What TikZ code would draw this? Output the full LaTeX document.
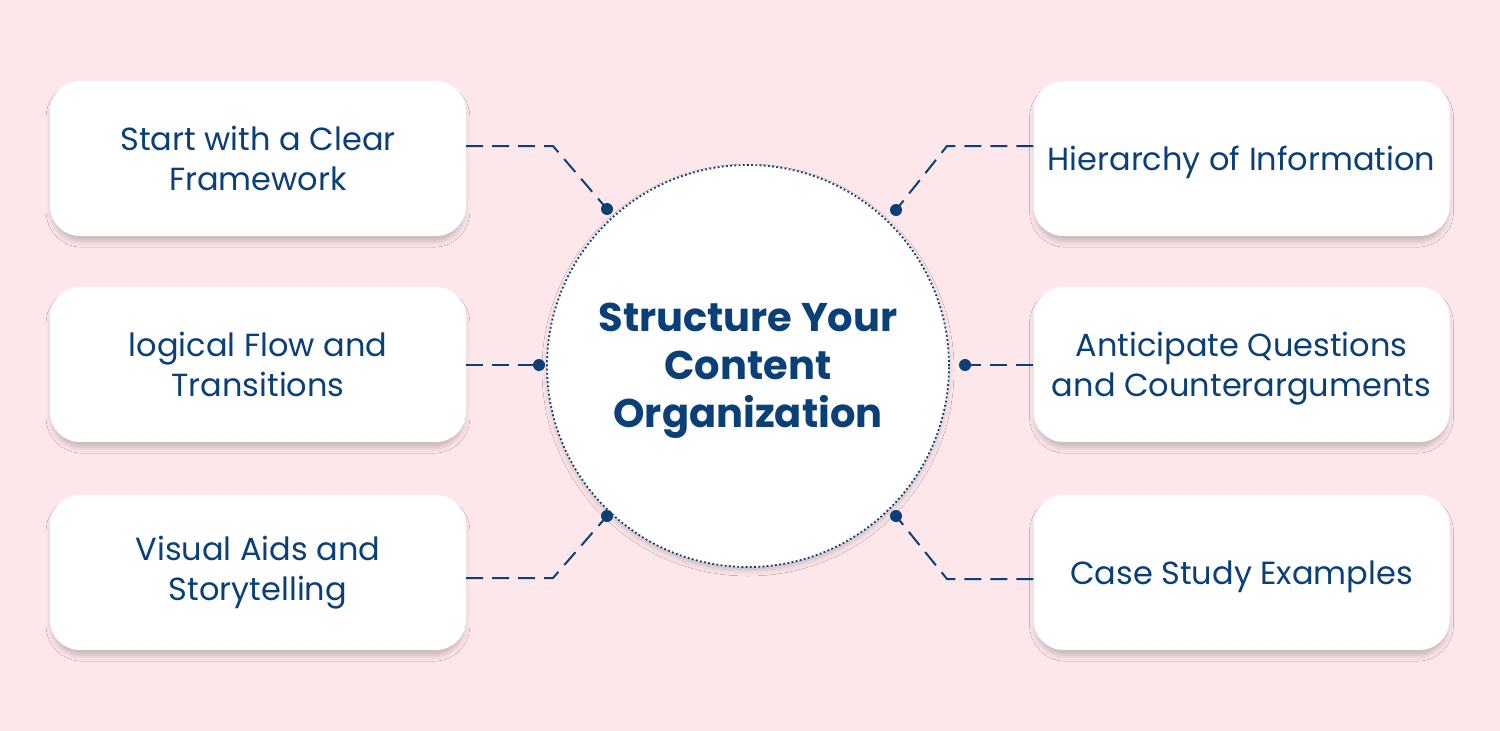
\documentclass[tikz,border=0pt]{standalone}
\usepackage{fontspec}
\setmainfont{Poppins}
\usetikzlibrary{shadows,shadows.blur}
\definecolor{bgpink}{HTML}{FDE7EA}
\definecolor{navy}{HTML}{0B3F78}
\tikzset{
  box/.style={draw=none, fill=white, rounded corners=30pt, minimum width=416pt, minimum height=155pt,
    inner sep=0pt,
    blur shadow={shadow xshift=0pt, shadow yshift=-6pt, shadow scale=0.99, shadow blur radius=6pt, shadow opacity=22}},
  boxtext/.style={align=center, text=navy, font=\fontsize{32}{40}\selectfont, inner sep=0pt},
  hub/.style={circle, fill=white, draw=navy, line width=1.8pt, dash pattern=on 1.8pt off 2.4pt,
    minimum size=402pt, inner sep=0pt,
    blur shadow={shadow xshift=0pt, shadow yshift=-4pt, shadow blur radius=5pt, shadow opacity=18}},
  hubtext/.style={align=center, text=navy, inner sep=0pt, font=\fontsize{40}{48}\selectfont\bfseries},
  link/.style={draw=navy, line width=2pt, dash pattern=on 17pt off 9pt},
  dotmark/.style={circle, fill=navy, minimum size=12pt, inner sep=0pt}
}
\begin{document}
\begin{tikzpicture}[x=1pt,y=1pt]
\useasboundingbox (0,0) rectangle (1500,-731);
\fill[bgpink] (0,0) rectangle (1500,-731);

\node[box] (b1) at (258,-158.5) {};
\node[box] (b2) at (258,-364.5) {};
\node[box] (b3) at (258,-572.5) {};
\node[box] (b4) at (1241.5,-158.5) {};
\node[box] (b5) at (1241.5,-364.5) {};
\node[box] (b6) at (1241.5,-572.5) {};

\node[boxtext] (t1) at (b1.center) {Start with a Clear\\Framework};
\node[boxtext] (t2) at (b2.center) {logical Flow and\\Transitions};
\node[boxtext] (t3) at (b3.center) {Visual Aids and\\Storytelling};
\node[boxtext] (t4) at ([yshift=-4pt]b4.center) {Hierarchy of Information};
\node[boxtext] (t5) at ([yshift=-4pt]b5.center) {Anticipate Questions\\and Counterarguments};
\node[boxtext] (t6) at ([yshift=-4pt]b6.center) {Case Study Examples};

\node[hub] (hub) at (748,-366) {};
\node[hubtext] (ht) at ([yshift=-5pt]hub.center) {Structure Your\\Content\\Organization};

\coordinate (k1) at (553,-146);
\coordinate (k3) at (553,-578);
\coordinate (k4) at (947,-146);
\coordinate (k6) at (947,-579);
\coordinate (p1) at (607,-209);
\coordinate (p2) at (539,-365);
\coordinate (p3) at (607,-516);
\coordinate (p4) at (896,-210);
\coordinate (p5) at (965,-365);
\coordinate (p6) at (896,-516);

\draw[link] (b1.east |- k1) -- (k1) -- (p1);
\draw[link] (b2.east |- p2) -- (p2);
\draw[link] (b3.east |- k3) -- (k3) -- (p3);
\draw[link] (b4.west |- k4) -- (k4) -- (p4);
\draw[link] (b5.west |- p5) -- (p5);
\draw[link] (b6.west |- k6) -- (k6) -- (p6);

\node[dotmark] (d1) at (p1) {};
\node[dotmark] (d2) at (p2) {};
\node[dotmark] (d3) at (p3) {};
\node[dotmark] (d4) at (p4) {};
\node[dotmark] (d5) at (p5) {};
\node[dotmark] (d6) at (p6) {};
\end{tikzpicture}
\end{document}
